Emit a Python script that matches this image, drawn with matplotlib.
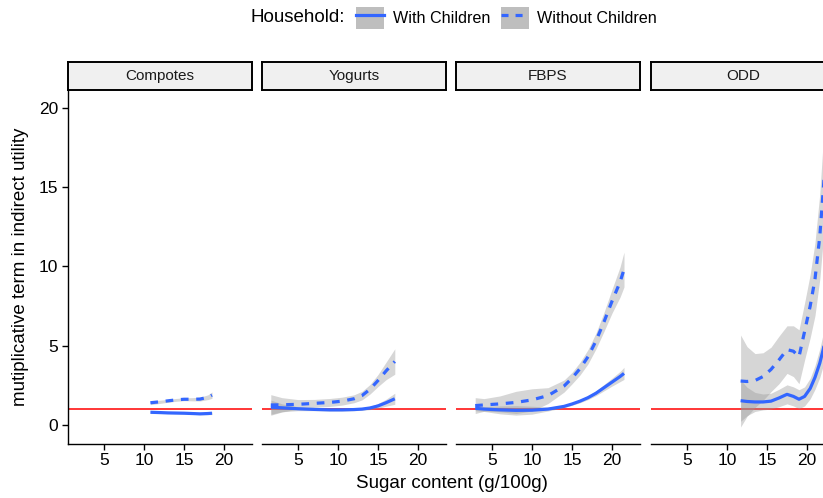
import matplotlib
matplotlib.use("Agg")
import matplotlib.pyplot as plt
import numpy as np
from matplotlib.patches import Patch
from matplotlib.lines import Line2D
from matplotlib.legend_handler import HandlerTuple

plt.rcParams['font.family'] = ['Liberation Sans', 'DejaVu Sans']

panels = ["Compotes", "Yogurts", "FBPS", "ODD"]

# Compotes
comp_x = [10.8, 12, 13, 14, 15, 16, 17, 18, 18.5]
comp_with = [0.80, 0.78, 0.76, 0.75, 0.74, 0.72, 0.70, 0.72, 0.74]
comp_with_se = [0.08, 0.06, 0.05, 0.05, 0.05, 0.05, 0.06, 0.07, 0.09]
comp_wo = [1.40, 1.46, 1.52, 1.58, 1.62, 1.62, 1.63, 1.75, 1.88]
comp_wo_se = [0.12, 0.10, 0.09, 0.09, 0.09, 0.10, 0.12, 0.15, 0.20]

# Yogurts
yog_x = [1.6, 3, 5, 7, 9, 10.5, 12, 13, 14, 15, 16, 17.1]
yog_with = [1.12, 1.08, 1.02, 0.98, 0.95, 0.95, 0.97, 1.0, 1.07, 1.2, 1.4, 1.65]
yog_with_se = [0.45, 0.25, 0.12, 0.08, 0.07, 0.07, 0.07, 0.08, 0.10, 0.15, 0.22, 0.35]
yog_wo = [1.26, 1.27, 1.30, 1.36, 1.42, 1.50, 1.65, 1.85, 2.25, 2.80, 3.40, 4.0]
yog_wo_se = [0.65, 0.45, 0.30, 0.25, 0.25, 0.25, 0.25, 0.27, 0.30, 0.38, 0.55, 0.80]

# FBPS
fb_x = [2.9, 4, 6, 8, 10, 12, 14, 15, 16, 17, 18, 19, 20, 21, 21.5]
fb_with = [1.05, 1.0, 0.95, 0.92, 0.93, 1.0, 1.17, 1.32, 1.5, 1.72, 2.0, 2.35, 2.7, 3.05, 3.25]
fb_with_se = [0.15, 0.15, 0.25, 0.30, 0.25, 0.12, 0.08, 0.08, 0.10, 0.12, 0.15, 0.20, 0.25, 0.32, 0.38]
fb_wo = [1.22, 1.26, 1.33, 1.42, 1.58, 1.85, 2.45, 2.95, 3.55, 4.3, 5.3, 6.5, 7.8, 9.0, 9.8]
fb_wo_se = [0.50, 0.40, 0.50, 0.70, 0.70, 0.50, 0.38, 0.36, 0.40, 0.45, 0.50, 0.60, 0.75, 0.95, 1.1]

# ODD
odd_x = [11.7, 12.5, 13.5, 14.5, 15.5, 16.5, 17.5, 18.3, 19, 19.7, 20.4, 21, 21.6, 22, 22.4]
odd_with = [1.53, 1.48, 1.45, 1.45, 1.5, 1.7, 1.93, 1.8, 1.62, 1.8, 2.3, 3.0, 3.9, 4.7, 5.6]
odd_with_se = [1.3, 0.9, 0.6, 0.5, 0.5, 0.55, 0.6, 0.6, 0.6, 0.6, 0.65, 0.75, 0.9, 1.0, 1.1]
odd_wo = [2.77, 2.74, 2.8, 3.05, 3.5, 4.1, 4.75, 4.65, 4.3, 5.9, 7.5, 9.2, 11.9, 14.6, 17.5]
odd_wo_se = [2.9, 2.2, 1.7, 1.5, 1.4, 1.5, 1.5, 1.6, 1.7, 1.8, 2.0, 2.3, 2.7, 3.1, 3.5]

series = [
    (comp_x, comp_with, comp_with_se, comp_wo, comp_wo_se),
    (yog_x, yog_with, yog_with_se, yog_wo, yog_wo_se),
    (fb_x, fb_with, fb_with_se, fb_wo, fb_wo_se),
    (odd_x, odd_with, odd_with_se, odd_wo, odd_wo_se),
]

W, H = 823, 498
fig = plt.figure(figsize=(W/100, H/100), dpi=100)

blue = '#3366FF'
band = '#999999'
lefts = [68, 262, 456, 651]
pw = 184
top, bot = 90, 443.5

for i, (name, (x, yw, sw, yo, so)) in enumerate(zip(panels, series)):
    ax = fig.add_axes([lefts[i]/W, (H-bot)/H, pw/W, (bot-top)/H])
    x = np.array(x)
    yw, sw, yo, so = map(np.array, (yw, sw, yo, so))
    ax.axhline(1, color='red', lw=1.1, zorder=1)
    ax.fill_between(x, yw-sw, yw+sw, color=band, alpha=0.4, lw=0, zorder=2)
    ax.fill_between(x, yo-so, yo+so, color=band, alpha=0.4, lw=0, zorder=2)
    ax.plot(x, yw, color=blue, lw=2.3, solid_capstyle='butt', zorder=3)
    ax.plot(x, yo, color=blue, lw=2.3, dashes=(2.4, 2.4), zorder=3)
    ax.set_xlim(0.5, 23.5)
    ax.set_ylim(-1.17, 21.12)
    ax.set_xticks([5, 10, 15, 20])
    ax.set_yticks([0, 5, 10, 15, 20])
    for s in ['top', 'right']:
        ax.spines[s].set_visible(False)
    ax.spines['bottom'].set_linewidth(1.0)
    ax.spines['left'].set_linewidth(1.0)
    ax.tick_params(axis='both', labelsize=12.5, length=4, width=1.0, colors='black', pad=3)
    if i > 0:
        ax.spines['left'].set_visible(False)
        ax.tick_params(axis='y', left=False, labelleft=False)
    else:
        ax.set_ylabel('mutiplicative term in indirect utility', fontsize=13.5, labelpad=7)
    # strip
    sax = fig.add_axes([lefts[i]/W, (H-top)/H, pw/W, 28/H])
    sax.set_facecolor('#F0F0F0')
    sax.set_xticks([]); sax.set_yticks([])
    for s in sax.spines.values():
        s.set_linewidth(1.4)
    sax.text(0.5, 0.5, name, ha='center', va='center', fontsize=11, transform=sax.transAxes, color='#1A1A1A')

fig.text(451.5/W, 1-483/H, 'Sugar content (g/100g)', ha='center', va='center', fontsize=13.5)

# legend
fig.text(250/W, 1-18/H, 'Household:', ha='left', va='center', fontsize=13.5)
key = Patch(facecolor='#BEBEBE', edgecolor='none')
h1 = (key, Line2D([], [], color=blue, lw=2.3))
h2 = (key, Line2D([], [], color=blue, lw=2.3, dashes=(2.2, 2.2)))
fig.legend([h1, h2], ['With Children', 'Without Children'], ncol=2, frameon=False,
           loc='center left', bbox_to_anchor=(356/W, 1-18/H), fontsize=11.6,
           handlelength=1.72, handleheight=1.72, handletextpad=0.55, columnspacing=0.68,
           borderpad=0, borderaxespad=0, handler_map={tuple: HandlerTuple(ndivide=1)})

fig.savefig('out.png', dpi=100)
